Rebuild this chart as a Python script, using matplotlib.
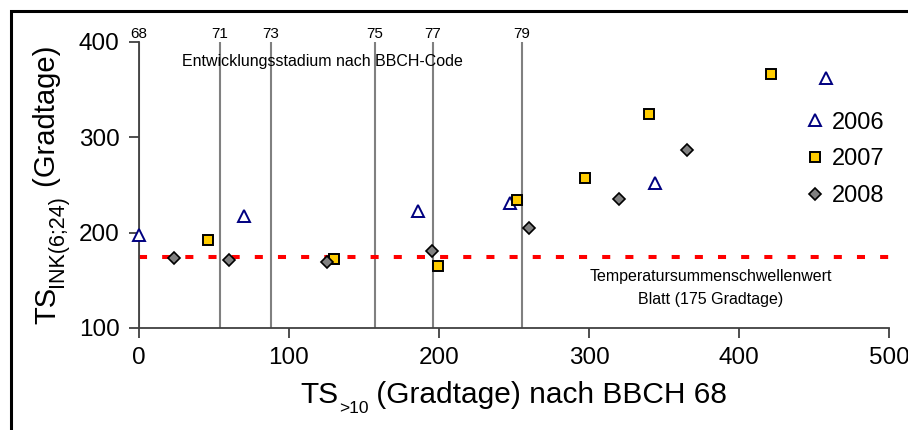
import matplotlib.pyplot as plt
from matplotlib.patches import Rectangle

plt.rcParams['font.family'] = ['Liberation Sans', 'DejaVu Sans']

# data
x_2006 = [0, 70, 186, 247, 344, 458]
y_2006 = [198, 217, 223, 231, 252, 362]
x_2007 = [46, 130, 199, 252, 297, 340, 421]
y_2007 = [192, 172, 165, 234, 257, 324, 366]
x_2008 = [23, 60, 125, 195, 260, 320, 365]
y_2008 = [173, 171, 169, 181, 205, 235, 287]

bbch_codes = ['68', '71', '73', '75', '77', '79']
bbch_x = [0, 54, 88, 157, 196, 255]
threshold = 175

W, H = 908, 430
fig = plt.figure(figsize=(W / 100, H / 100), dpi=100)
ax = fig.add_axes([139 / W, 1 - 328 / H, 750 / W, 286 / H])

# frame around the whole chart (right/bottom edges lie outside the image)
fig.patches.append(Rectangle((11 / W, -0.1), 1.2, 1 - 11 / H + 0.1,
                             transform=fig.transFigure, fill=False,
                             edgecolor='black', linewidth=2.2, zorder=10))

for code, xv in zip(bbch_codes, bbch_x):
    ax.axvline(xv, color='#808080', linewidth=1.5, zorder=1)
    ax.text(xv, 401, code, ha='center', va='bottom', fontsize=11,
            clip_on=False)

ax.axhline(threshold, color='#ff0000', linewidth=2.9,
           linestyle=(0, (2, 3.75)), zorder=2)

ax.plot(x_2006, y_2006, linestyle='None', marker='^', markersize=8,
        markerfacecolor='white', markeredgecolor='#000080',
        markeredgewidth=1.4, label='2006', zorder=3, clip_on=False)
ax.plot(x_2007, y_2007, linestyle='None', marker='s', markersize=7,
        markerfacecolor='#ffcc00', markeredgecolor='black',
        markeredgewidth=1.4, label='2007', zorder=3, clip_on=False)
ax.plot(x_2008, y_2008, linestyle='None', marker='D', markersize=6.5,
        markerfacecolor='#808080', markeredgecolor='black',
        markeredgewidth=1.2, label='2008', zorder=3, clip_on=False)

ax.text(122, 380, 'Entwicklungsstadium nach BBCH-Code', ha='center',
        va='center', fontsize=11.5)
ax.text(381, 154, 'Temperatursummenschwellenwert', ha='center', va='center',
        fontsize=11.5)
ax.text(381, 130, 'Blatt (175 Gradtage)', ha='center', va='center',
        fontsize=11.5)

ax.set_xlim(0, 500)
ax.set_ylim(100, 400)
ax.set_xticks([0, 100, 200, 300, 400, 500])
ax.set_yticks([100, 200, 300, 400])
ax.tick_params(axis='both', labelsize=17.5, color='#404040', length=7,
               width=1.3, pad=7)
for s in ['top', 'right']:
    ax.spines[s].set_visible(False)
for s in ['left', 'bottom']:
    ax.spines[s].set_color('#404040')
    ax.spines[s].set_linewidth(1.3)

ax.legend(loc='upper left', bbox_to_anchor=(0.87, 0.79), frameon=False,
          fontsize=17, handletextpad=0.1, labelspacing=0.62,
          handlelength=1.2, borderaxespad=0)

# axis titles built from pieces so the subscripts keep plain spacing
xl1 = fig.text(0, 1 - 403 / H, 'TS', fontsize=21.5, ha='left', va='baseline')
xl2 = fig.text(0, 0, '>10', fontsize=12.5, ha='left', va='bottom')
xl3 = fig.text(0, 0, ' (Gradtage) nach BBCH 68', fontsize=21.5, ha='left',
               va='baseline')

yl1 = fig.text(33 / W, 0, 'TS', fontsize=21, rotation=90, ha='left',
               va='bottom')
yl2 = fig.text(0, 0, 'INK(6;24)', fontsize=15.5, rotation=90, ha='right',
               va='bottom')
yl3 = fig.text(0, 0, ' (Gradtage)', fontsize=21, rotation=90, ha='right',
               va='bottom')

fig.canvas.draw()
r = fig.canvas.get_renderer()
inv = fig.transFigure.inverted()

# x title: place pieces left to right, then centre under the axes
b1 = xl1.get_window_extent(r)
xl2.set_position(inv.transform((b1.x1, b1.y0 - 7)))
b2 = xl2.get_window_extent(r)
xl3.set_position(inv.transform((b2.x1, xl1.get_transform().transform(
    xl1.get_position())[1])))
b3 = xl3.get_window_extent(r)
shift = (139 + 889) / 2 - (b1.x0 + b3.x1) / 2
for t in (xl1, xl2, xl3):
    px, py = fig.transFigure.transform(t.get_position())
    t.set_position(inv.transform((px + shift, py)))

# y title: pieces bottom to top, subscript moved towards the baseline side
c1 = yl1.get_window_extent(r)
yl2.set_position(inv.transform((c1.x1 + 7, c1.y1)))
c2 = yl2.get_window_extent(r)
yl3.set_position(inv.transform((c1.x1, c2.y1)))
c3 = yl3.get_window_extent(r)
shift = (H - (42 + 328) / 2) - (c1.y0 + c3.y1) / 2
for t in (yl1, yl2, yl3):
    px, py = fig.transFigure.transform(t.get_position())
    t.set_position(inv.transform((px, py + shift)))

fig.savefig('out.png', dpi=100)
